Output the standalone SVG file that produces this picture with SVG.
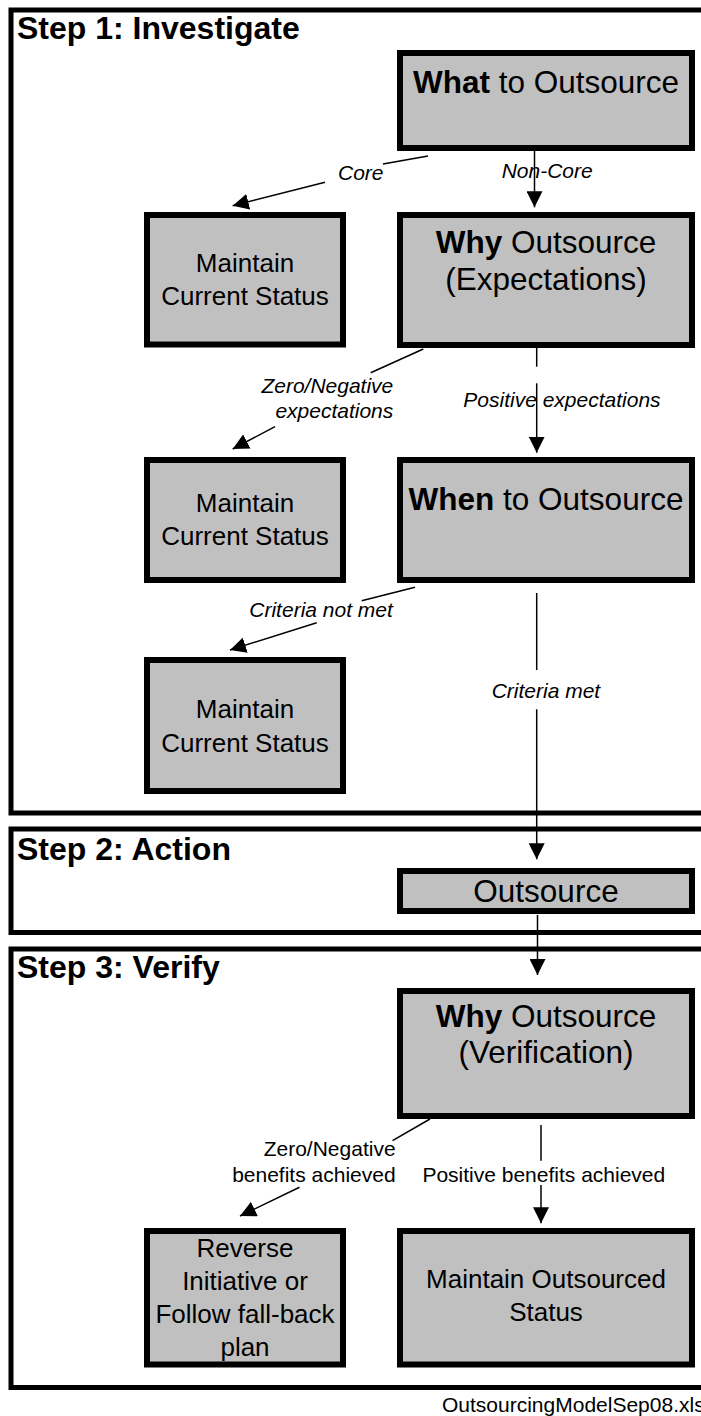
<svg xmlns="http://www.w3.org/2000/svg" width="701" height="1416" viewBox="0 0 701 1416">
<defs>
<marker id="ah" markerUnits="userSpaceOnUse" viewBox="0 0 16 16" refX="16" refY="8" markerWidth="16" markerHeight="16" orient="auto">
<path d="M0,0 L16,8 L0,16 z" fill="#000"/>
</marker>
<style>
.frame{fill:none;stroke:#000;stroke-width:5}
.box{fill:#c0c0c0;stroke:#000;stroke-width:6}
.title{font-family:"Liberation Sans",Arial,sans-serif;font-weight:bold;font-size:32px;fill:#000}
.big{font-family:"Liberation Sans",Arial,sans-serif;font-size:31.5px;fill:#000;text-anchor:middle}
.med{font-family:"Liberation Sans",Arial,sans-serif;font-size:26px;fill:#000;text-anchor:middle}
.lbl{font-family:"Liberation Sans",Arial,sans-serif;font-size:21px;font-style:italic;fill:#000}
.lbr{font-family:"Liberation Sans",Arial,sans-serif;font-size:21px;fill:#000}
.ln{fill:none;stroke:#000;stroke-width:1.5}
b{font-weight:bold}
</style>
</defs>
<rect width="701" height="1416" fill="#fff"/>
<g id="step1">
<rect class="frame" x="11" y="10" width="720" height="803"/>
<text class="title" x="17" y="39">Step 1: Investigate</text>
</g>
<g id="step2">
<rect class="frame" x="11" y="829" width="720" height="103.5"/>
<text class="title" x="17" y="860">Step 2: Action</text>
</g>
<g id="step3">
<rect class="frame" x="11" y="949" width="720" height="438.5"/>
<text class="title" x="17" y="978">Step 3: Verify</text>
</g>
<g id="what">
<rect class="box" x="400" y="53" width="292" height="95"/>
<text class="big" x="546" y="93"><tspan font-weight="bold">What</tspan> to Outsource</text>
</g>
<g id="maintain1">
<rect class="box" x="147" y="215" width="196" height="129.5"/>
<text class="med" x="245" y="272">Maintain</text>
<text class="med" x="245" y="305">Current Status</text>
</g>
<g id="why">
<rect class="box" x="400" y="215" width="292" height="130"/>
<text class="big" x="546" y="253"><tspan font-weight="bold">Why</tspan> Outsource</text>
<text class="big" x="546" y="290">(Expectations)</text>
</g>
<g id="maintain2">
<rect class="box" x="147" y="460" width="196" height="120"/>
<text class="med" x="245" y="512">Maintain</text>
<text class="med" x="245" y="545">Current Status</text>
</g>
<g id="when">
<rect class="box" x="400" y="460" width="292" height="120"/>
<text class="big" x="546" y="510"><tspan font-weight="bold">When</tspan> to Outsource</text>
</g>
<g id="maintain3">
<rect class="box" x="147" y="660" width="196" height="131"/>
<text class="med" x="245" y="718">Maintain</text>
<text class="med" x="245" y="752">Current Status</text>
</g>
<g id="outsource">
<rect class="box" x="400" y="871" width="292" height="40"/>
<text class="big" x="546" y="902">Outsource</text>
</g>
<g id="whyverif">
<rect class="box" x="400" y="991" width="292" height="125"/>
<text class="big" x="546" y="1027"><tspan font-weight="bold">Why</tspan> Outsource</text>
<text class="big" x="546" y="1063">(Verification)</text>
</g>
<g id="reverse">
<rect class="box" x="147" y="1231" width="196" height="133.5"/>
<text class="med" x="245" y="1257">Reverse</text>
<text class="med" x="245" y="1290">Initiative or</text>
<text class="med" x="245" y="1323">Follow fall-back</text>
<text class="med" x="245" y="1356">plan</text>
</g>
<g id="maintainout">
<rect class="box" x="400" y="1231" width="292" height="133.5"/>
<text class="med" x="546" y="1288">Maintain Outsourced</text>
<text class="med" x="546" y="1321">Status</text>
</g>
<g id="connectors">
<line class="ln" x1="428" y1="156" x2="383" y2="164"/>
<line class="ln" x1="325" y1="182.3" x2="232.7" y2="205.7" marker-end="url(#ah)"/>
<line class="ln" x1="534.5" y1="151" x2="534.5" y2="207.3" marker-end="url(#ah)"/>
<line class="ln" x1="423.3" y1="349" x2="370.7" y2="372.7"/>
<line class="ln" x1="275" y1="426.7" x2="232.7" y2="449" marker-end="url(#ah)"/>
<line class="ln" x1="536.7" y1="348" x2="536.7" y2="366.7"/>
<line class="ln" x1="536.7" y1="383.3" x2="536.7" y2="452.7" marker-end="url(#ah)"/>
<line class="ln" x1="415" y1="587.3" x2="361.7" y2="600.7"/>
<line class="ln" x1="316.7" y1="622.7" x2="230" y2="650" marker-end="url(#ah)"/>
<line class="ln" x1="536.7" y1="593" x2="536.7" y2="670"/>
<line class="ln" x1="536.7" y1="709.3" x2="536.7" y2="859.3" marker-end="url(#ah)"/>
<line class="ln" x1="537.5" y1="915" x2="537.5" y2="975" marker-end="url(#ah)"/>
<line class="ln" x1="430" y1="1119" x2="392.5" y2="1140.7"/>
<line class="ln" x1="299.5" y1="1187.3" x2="240" y2="1216" marker-end="url(#ah)"/>
<line class="ln" x1="541" y1="1125" x2="541" y2="1160.7"/>
<line class="ln" x1="541" y1="1185" x2="541" y2="1223.3" marker-end="url(#ah)"/>
<text class="lbl" x="338" y="180">Core</text>
<text class="lbl" x="501.7" y="178">Non-Core</text>
<text class="lbl" x="393.3" y="393.3" text-anchor="end">Zero/Negative</text>
<text class="lbl" x="393.3" y="418.3" text-anchor="end">expectations</text>
<text class="lbl" x="463.3" y="406.7">Positive expectations</text>
<text class="lbl" x="249.3" y="616.7">Criteria not met</text>
<text class="lbl" x="491.7" y="698.3">Criteria met</text>
<text class="lbr" x="395.6" y="1156" text-anchor="end">Zero/Negative</text>
<text class="lbr" x="395.6" y="1181.7" text-anchor="end">benefits achieved</text>
<text class="lbr" x="422.4" y="1181.7">Positive benefits achieved</text>
</g>
<text class="lbr" x="442" y="1412">OutsourcingModelSep08.xls</text>
</svg>
